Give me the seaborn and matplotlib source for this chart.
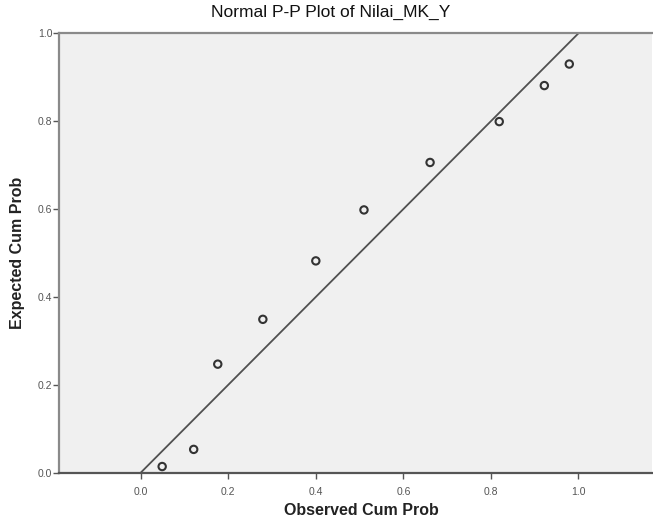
import matplotlib
matplotlib.use('Agg')
import matplotlib.pyplot as plt
import seaborn as sns
import pandas as pd

# observed vs expected cumulative probabilities
observed_cum = [0.049, 0.121, 0.176, 0.279, 0.400, 0.510, 0.661, 0.819, 0.922, 0.979]
expected_cum = [0.014, 0.053, 0.247, 0.349, 0.482, 0.598, 0.706, 0.799, 0.881, 0.930]
ref_line = [0.0, 1.0]
tick_vals = [0.0, 0.2, 0.4, 0.6, 0.8, 1.0]

pp = pd.DataFrame({'obs': observed_cum, 'exp': expected_cum})
diag = pd.DataFrame({'x': ref_line, 'y': ref_line})

sns.set_style('white')
plt.rcParams['font.family'] = ['Liberation Sans', 'DejaVu Sans']

fig = plt.figure(figsize=(6.53, 5.2), dpi=100)
ax = fig.add_axes([0.0908, 0.091, 0.9077, 0.845])
ax.set_facecolor('#f0f0f0')

sns.lineplot(data=diag, x='x', y='y', color='#505050', linewidth=1.3, ax=ax)
sns.scatterplot(data=pp, x='obs', y='exp', s=28, facecolor='none',
                edgecolor='#333333', linewidth=1.5, ax=ax, zorder=3)

ax.set_xlim(-0.186, 1.168)
ax.set_ylim(0, 1)
ax.set_xticks(tick_vals)
ax.set_yticks(tick_vals)
ax.set_xticklabels([f'{v:.1f}' for v in tick_vals])
ax.set_yticklabels([f'{v:.1f}' for v in tick_vals])
ax.tick_params(axis='both', labelsize=7.5, colors='#555555', length=4, width=1,
               direction='out', pad=6, left=True, bottom=True)
ax.tick_params(axis='y', pad=1)

for side in ['left', 'bottom', 'top', 'right']:
    ax.spines[side].set_color('#8a8a8a')
    ax.spines[side].set_linewidth(1.6)
ax.spines['bottom'].set_color('#555555')
ax.spines['right'].set_visible(False)

ax.set_xlabel('Observed Cum Prob', fontsize=11.5, fontweight='bold', color='#222222')
ax.set_ylabel('Expected Cum Prob', fontsize=11.5, fontweight='bold', color='#222222')
ax.xaxis.set_label_coords(0.51, -0.068)
ax.yaxis.set_label_coords(-0.058, 0.5)
fig.suptitle('Normal P-P Plot of Nilai_MK_Y', x=0.507, y=0.99, fontsize=12.5, color='#111111')

fig.savefig('out.png', dpi=100)
